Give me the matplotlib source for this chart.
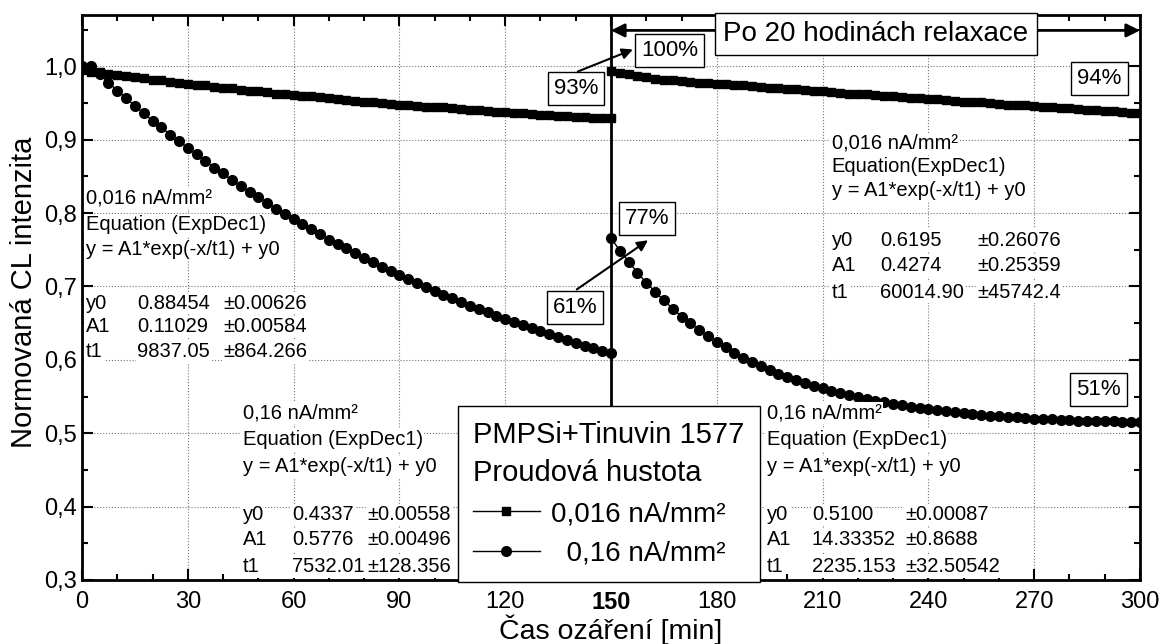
import matplotlib
matplotlib.use('Agg')

import numpy as np
import matplotlib.pyplot as plt
from matplotlib.ticker import MultipleLocator, FuncFormatter

plt.rcParams['font.family'] = ['Liberation Sans', 'DejaVu Sans']
plt.rcParams['axes.unicode_minus'] = False

# time axis [min]: irradiation 0-150, after 20 h relaxation 150-300, step 2.5 min
t_irr = np.linspace(0, 150, 61)
t_rel = np.linspace(150, 300, 61)

# normalized CL intensity, 0.016 nA/mm2 (squares)
low_irr = [0.995, 0.993, 0.992, 0.990, 0.988,
           0.987, 0.985, 0.984, 0.982, 0.981,
           0.979, 0.978, 0.976, 0.975, 0.974,
           0.972, 0.971, 0.970, 0.968, 0.967,
           0.966, 0.965, 0.963, 0.962, 0.961,
           0.960, 0.959, 0.958, 0.957, 0.955,
           0.954, 0.953, 0.952, 0.951, 0.950,
           0.949, 0.948, 0.947, 0.946, 0.945,
           0.944, 0.944, 0.943, 0.942, 0.941,
           0.940, 0.939, 0.938, 0.938, 0.937,
           0.936, 0.935, 0.934, 0.934, 0.933,
           0.932, 0.931, 0.931, 0.930, 0.929,
           0.929]
low_rel = [0.994, 0.991, 0.989, 0.987, 0.986,
           0.983, 0.982, 0.981, 0.980, 0.979,
           0.978, 0.977, 0.976, 0.976, 0.975,
           0.974, 0.973, 0.972, 0.971, 0.970,
           0.969, 0.969, 0.968, 0.967, 0.966,
           0.965, 0.964, 0.963, 0.962, 0.962,
           0.961, 0.960, 0.959, 0.958, 0.957,
           0.957, 0.956, 0.955, 0.954, 0.953,
           0.952, 0.952, 0.951, 0.950, 0.949,
           0.948, 0.947, 0.947, 0.946, 0.945,
           0.944, 0.943, 0.943, 0.942, 0.941,
           0.940, 0.939, 0.939, 0.938, 0.937,
           0.936]

# normalized CL intensity, 0.16 nA/mm2 (circles)
high_irr = [1.000, 1.000, 0.989, 0.978, 0.967,
            0.957, 0.946, 0.936, 0.926, 0.917,
            0.907, 0.898, 0.889, 0.880, 0.871,
            0.862, 0.854, 0.845, 0.837, 0.829,
            0.822, 0.814, 0.806, 0.799, 0.792,
            0.785, 0.778, 0.771, 0.764, 0.758,
            0.752, 0.745, 0.739, 0.733, 0.727,
            0.721, 0.716, 0.710, 0.705, 0.699,
            0.694, 0.689, 0.684, 0.679, 0.674,
            0.669, 0.665, 0.660, 0.656, 0.651,
            0.647, 0.643, 0.639, 0.635, 0.631,
            0.627, 0.623, 0.619, 0.616, 0.612,
            0.609]
high_rel = [0.766, 0.749, 0.734, 0.719, 0.705,
            0.693, 0.681, 0.670, 0.659, 0.650,
            0.641, 0.632, 0.624, 0.617, 0.610,
            0.603, 0.597, 0.592, 0.586, 0.581,
            0.577, 0.572, 0.568, 0.565, 0.561,
            0.558, 0.555, 0.552, 0.549, 0.547,
            0.544, 0.542, 0.540, 0.538, 0.536,
            0.534, 0.533, 0.531, 0.530, 0.529,
            0.527, 0.526, 0.525, 0.524, 0.523,
            0.522, 0.522, 0.521, 0.520, 0.520,
            0.519, 0.518, 0.518, 0.517, 0.517,
            0.516, 0.516, 0.516, 0.515, 0.515,
            0.515]

# ExpDec1 fit results
head_low = ["0,016 nA/mm²", "Equation (ExpDec1)", "y = A1*exp(-x/t1) + y0"]
head_low_rel = ["0,016 nA/mm²", "Equation(ExpDec1)", "y = A1*exp(-x/t1) + y0"]
head_high = ["0,16 nA/mm²", "Equation (ExpDec1)", "y = A1*exp(-x/t1) + y0"]
fit_low_irr = [("y0", "0.88454", "±0.00626"), ("A1", "0.11029", "±0.00584"), ("t1", "9837.05", "±864.266")]
fit_high_irr = [("y0", "0.4337", "±0.00558"), ("A1", "0.5776", "±0.00496"), ("t1", "7532.01", "±128.356")]
fit_low_rel = [("y0", "0.6195", "±0.26076"), ("A1", "0.4274", "±0.25359"), ("t1", "60014.90", "±45742.4")]
fit_high_rel = [("y0", "0.5100", "±0.00087"), ("A1", "14.33352", "±0.8688"), ("t1", "2235.153", "±32.50542")]

fig = plt.figure(figsize=(11.63, 6.44), dpi=100)
ax = fig.add_axes([0.0705, 0.0994, 0.9097, 0.8773])

sq_kw = dict(color='black', lw=1, marker='s', ms=6, mec='black')
ci_kw = dict(color='black', lw=1, marker='o', ms=7, mec='black')
h_low, = ax.plot(t_irr, low_irr, **sq_kw)
ax.plot(t_rel, low_rel, **sq_kw)
h_high, = ax.plot(t_irr, high_irr, **ci_kw)
ax.plot(t_rel, high_rel, **ci_kw)

ax.axvline(150, color='black', lw=2, zorder=5)

ax.set_xlim(0, 300)
ax.set_ylim(0.3, 1.07)
ax.xaxis.set_major_locator(MultipleLocator(30))
ax.xaxis.set_minor_locator(MultipleLocator(10))
ax.yaxis.set_major_locator(MultipleLocator(0.1))
ax.yaxis.set_minor_locator(MultipleLocator(0.05))
ax.yaxis.set_major_formatter(FuncFormatter(lambda v, p: f"{v:.1f}".replace('.', ',')))
ax.tick_params(which='both', direction='in', top=True, right=True, width=1.5, labelsize=17)
ax.tick_params(which='major', length=8)
ax.tick_params(which='minor', length=4)
ax.tick_params(axis='x', pad=8)
for lab in ax.get_xticklabels():
    if lab.get_text() == '150':
        lab.set_fontweight('bold')
for s in ax.spines.values():
    s.set_linewidth(2)
ax.grid(True, which='major', ls=':', lw=0.8, color='#777777')
ax.set_axisbelow(True)

ax.set_xlabel("Čas ozáření [min]", fontsize=20.5, labelpad=0)
ax.set_ylabel("Normovaná CL intenzita", fontsize=21)
ax.yaxis.set_label_coords(-0.042, 0.51)

# fit parameter blocks
wbox = dict(fc='white', ec='none', pad=1)


def fit_block(x, rows, head, params, xv, xe):
    for yy, s in zip(rows[:3], head):
        ax.text(x, yy, s, fontsize=14.5, va='center', bbox=wbox, zorder=6)
    for yy, (n, v, e) in zip(rows[3:], params):
        ax.text(x, yy, n, fontsize=14.5, va='center', bbox=wbox, zorder=6)
        ax.text(xv, yy, v, fontsize=14.5, va='center', bbox=wbox, zorder=6)
        ax.text(xe, yy, e, fontsize=14.5, va='center', bbox=wbox, zorder=6)


rows_top_left = [0.820, 0.784, 0.750, 0.677, 0.645, 0.611]
rows_top_right = [0.895, 0.863, 0.831, 0.763, 0.728, 0.692]
rows_bottom = [0.528, 0.491, 0.454, 0.389, 0.355, 0.318]
fit_block(1.0, rows_top_left, head_low, fit_low_irr, 15.6, 40.0)
fit_block(45.6, rows_bottom, head_high, fit_high_irr, 59.5, 81.0)
fit_block(212.6, rows_top_right, head_low_rel, fit_low_rel, 226.3, 254.0)
fit_block(194.2, rows_bottom, head_high, fit_high_rel, 207.0, 233.5)

# percentage labels and arrows
pbox = dict(boxstyle='square,pad=0.27', fc='white', ec='black', lw=1)
for s, xx, yy in [("100%", 166.7, 1.021), ("93%", 140.1, 0.970), ("77%", 160.2, 0.793),
                  ("61%", 139.8, 0.672), ("94%", 288.5, 0.984), ("51%", 288.3, 0.559)]:
    ax.text(xx, yy, s, fontsize=16, ha='center', va='center', bbox=pbox, zorder=7)

arr = dict(arrowstyle='-|>', color='black', lw=1.5, mutation_scale=16, shrinkA=0, shrinkB=0)
ax.annotate("", xy=(156.2, 1.023), xytext=(140.6, 0.993), arrowprops=arr, zorder=7)
ax.annotate("", xy=(160.5, 0.763), xytext=(140.3, 0.696), arrowprops=arr, zorder=7)

# relaxation span
ax.annotate("", xy=(150, 1.049), xytext=(300, 1.049),
            arrowprops=dict(arrowstyle='<|-|>', color='black', lw=2, mutation_scale=20,
                            shrinkA=0, shrinkB=0), zorder=7)
ax.text(225.1, 1.044, "Po 20 hodinách relaxace", fontsize=20, ha='center', va='center',
        bbox=dict(boxstyle='square,pad=0.3', fc='white', ec='black', lw=1), zorder=8)

leg = ax.legend(handles=[h_low, h_high], labels=["0,016 nA/mm²", "  0,16 nA/mm²"],
                title="PMPSi+Tinuvin 1577\nProudová hustota", loc='lower left',
                bbox_to_anchor=(0.355, -0.004), borderaxespad=0, fontsize=20,
                title_fontsize=21, alignment='left', frameon=True, fancybox=False,
                edgecolor='black', framealpha=1, handlelength=2.4, numpoints=1,
                labelspacing=0.5, borderpad=0.55, handletextpad=0.4)
leg.get_frame().set_linewidth(1)
leg.get_title().set_linespacing(1.45)
leg.set_zorder(10)

fig.savefig('out.png', dpi=100)
